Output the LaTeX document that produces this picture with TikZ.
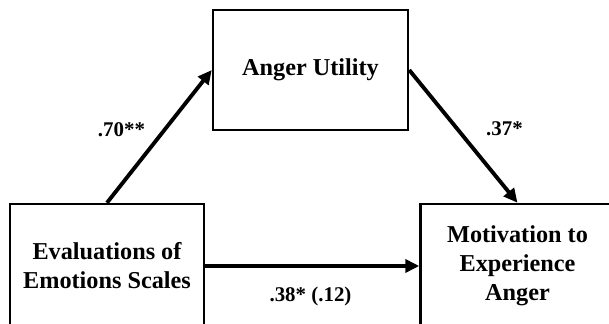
\documentclass[tikz,border=0pt]{standalone}
\usepackage{fontspec}
\setmainfont{Liberation Serif}
\usetikzlibrary{arrows.meta}
\begin{document}
\begin{tikzpicture}[font=\bfseries\fontsize{13.8}{16.5}\selectfont,
boite/.style={draw,line width=1.4pt,minimum width=3.88cm,minimum height=2.48cm,align=center,inner sep=0pt},
fleche/.style={-{Triangle[length=0.28cm,width=0.26cm]},line width=2.2pt},
coef/.style={font=\bfseries\fontsize{11.9}{14}\selectfont}]
\useasboundingbox (0,0) rectangle (12.18,-6.48);
\node[boite,minimum width=3.9cm,minimum height=2.4cm] (utilite) at (6.21,-1.4) {Anger Utility};
\node[boite] (evaluation) at (2.14,-5.32) {Evaluations of\\Emotions Scales};
\node[boite] (motivation) at (10.35,-5.32) {Motivation to\\Experience\\Anger};
\draw[fleche] (evaluation.north) -- (utilite.west);
\draw[fleche] (utilite.east) -- (motivation.north);
\draw[fleche] (evaluation.east) -- (motivation.west);
\node[coef] (a) at (2.43,-2.6) {.70**};
\node[coef] (b) at (10.09,-2.58) {.37*};
\node[coef] (c) at (6.21,-5.93) {.38* (.12)};
\end{tikzpicture}
\end{document}
